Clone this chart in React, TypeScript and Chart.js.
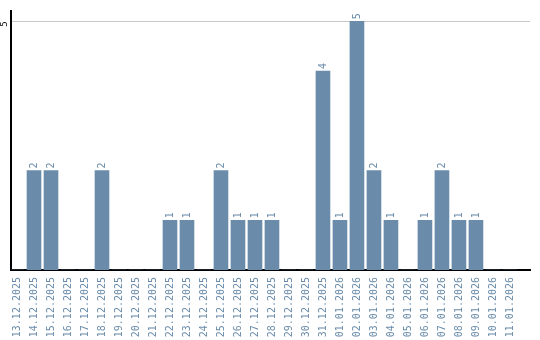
import React, { useEffect, useRef } from "react";
import { Chart, registerables } from "chart.js";

Chart.register(...registerables);

const categories: string[] = [
  "13.12.2025", "14.12.2025", "15.12.2025", "16.12.2025", "17.12.2025",
  "18.12.2025", "19.12.2025", "20.12.2025", "21.12.2025", "22.12.2025",
  "23.12.2025", "24.12.2025", "25.12.2025", "26.12.2025", "27.12.2025",
  "28.12.2025", "29.12.2025", "30.12.2025", "31.12.2025", "01.01.2026",
  "02.01.2026", "03.01.2026", "04.01.2026", "05.01.2026", "06.01.2026",
  "07.01.2026", "08.01.2026", "09.01.2026", "10.01.2026", "11.01.2026",
];

const counts: number[] = [
  0, 2, 2, 0, 0, 2, 0, 0, 0, 1,
  1, 0, 2, 1, 1, 1, 0, 0, 4, 1,
  5, 2, 1, 0, 1, 2, 1, 1, 0, 0,
];

const yTickValues: number[] = [5];

const BAR_COLOR = "#6a8caa";
const TEXT_COLOR = "#6a8caa";
const FONT_FAMILY = "'DejaVu Sans Mono', monospace";

const valueLabels = {
  id: "valueLabels",
  afterDatasetsDraw(chart: any) {
    const ctx = chart.ctx;
    const meta = chart.getDatasetMeta(0);
    ctx.save();
    ctx.fillStyle = TEXT_COLOR;
    ctx.font = `10px ${FONT_FAMILY}`;
    ctx.textAlign = "left";
    ctx.textBaseline = "middle";
    meta.data.forEach((bar: any, i: number) => {
      const v = counts[i];
      if (!v) return;
      ctx.save();
      ctx.translate(bar.x, bar.y - 2);
      ctx.rotate(-Math.PI / 2);
      ctx.fillText(String(v), 0, 0);
      ctx.restore();
    });
    ctx.restore();
  },
};

export default function App() {
  const ref = useRef<HTMLCanvasElement | null>(null);

  useEffect(() => {
    if (!ref.current) return;
    const chart = new Chart(ref.current, {
      type: "bar",
      data: {
        datasets: [
          {
            data: counts.map((v, i) => ({ x: i, y: v })),
            backgroundColor: BAR_COLOR,
            borderWidth: 0,
            barThickness: 14,
          },
        ],
      },
      options: {
        animation: false,
        responsive: false,
        layout: { padding: { left: 0, top: 10, right: 10, bottom: 0 } },
        plugins: {
          legend: { display: false },
          tooltip: { enabled: false },
        },
        scales: {
          x: {
            type: "linear",
            offset: false,
            min: -0.353,
            max: 30.18,
            grid: { display: false, drawTicks: false },
            border: { display: true, color: "#000", width: 2 },
            afterBuildTicks: (scale: any) => {
              scale.ticks = categories.map((_, i) => ({ value: i }));
            },
            afterFit: (scale: any) => {
              scale.height = 70;
            },
            ticks: {
              autoSkip: false,
              minRotation: 90,
              maxRotation: 90,
              padding: 7,
              color: TEXT_COLOR,
              font: { family: FONT_FAMILY, size: 10 },
              callback: (value: any) => categories[Math.round(Number(value))] ?? "",
            },
          },
          y: {
            min: 0,
            max: 5.2,
            grid: {
              color: "#c8c8c8",
              lineWidth: 1,
              drawTicks: false,
            },
            border: { display: true, color: "#000", width: 2 },
            afterBuildTicks: (scale: any) => {
              scale.ticks = yTickValues.map((v) => ({ value: v }));
            },
            afterFit: (scale: any) => {
              scale.width = 11;
            },
            ticks: {
              minRotation: 90,
              maxRotation: 90,
              padding: 6,
              color: "#000",
              font: { family: FONT_FAMILY, size: 9 },
              callback: (value: any) => String(value),
            },
          },
        },
      },
      plugins: [valueLabels],
    } as any);
    return () => chart.destroy();
  }, []);

  return (
    <div style={{ position: "fixed", left: 0, top: 0, width: 540, height: 340, background: "#fff" }}>
      <canvas ref={ref} width={540} height={340} style={{ display: "block" }} />
    </div>
  );
}
